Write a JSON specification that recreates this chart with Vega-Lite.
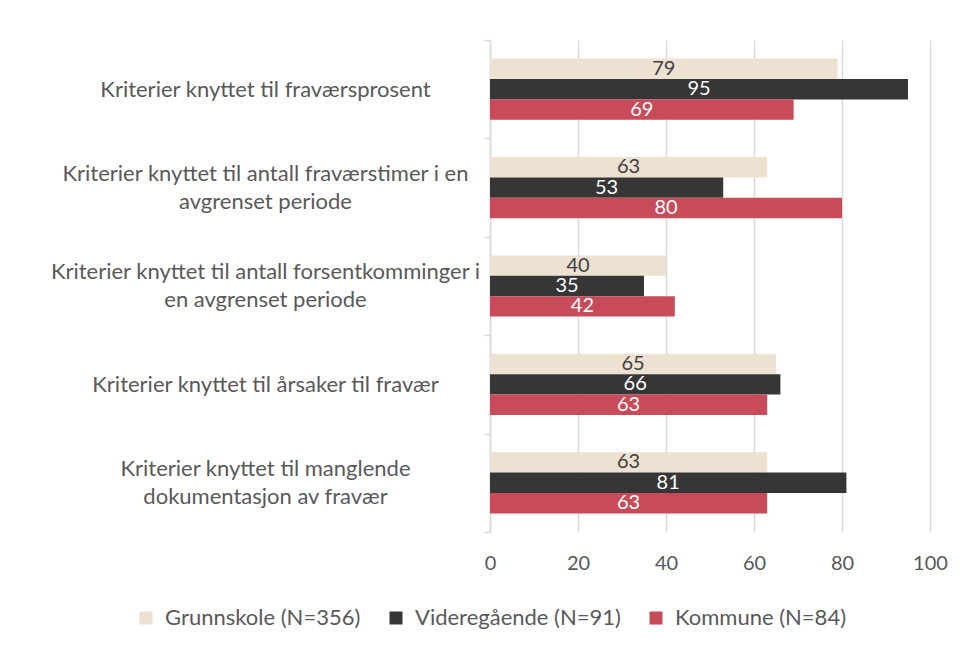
{
  "$schema": "https://vega.github.io/schema/vega-lite/v6.json",
  "width": 440,
  "height": 492,
  "autosize": "none",
  "padding": {"left": 490, "top": 40, "right": 36, "bottom": 117},
  "background": "white",
  "config": {"view": {"stroke": null}, "font": "Lato"},
  "data": {
    "values": [
      {"kategori": "Kriterier knyttet til fraværsprosent", "gruppe": "Grunnskole (N=356)", "verdi": 79},
      {"kategori": "Kriterier knyttet til fraværsprosent", "gruppe": "Videregående (N=91)", "verdi": 95},
      {"kategori": "Kriterier knyttet til fraværsprosent", "gruppe": "Kommune (N=84)", "verdi": 69},
      {"kategori": "Kriterier knyttet til antall fraværstimer i en|avgrenset periode", "gruppe": "Grunnskole (N=356)", "verdi": 63},
      {"kategori": "Kriterier knyttet til antall fraværstimer i en|avgrenset periode", "gruppe": "Videregående (N=91)", "verdi": 53},
      {"kategori": "Kriterier knyttet til antall fraværstimer i en|avgrenset periode", "gruppe": "Kommune (N=84)", "verdi": 80},
      {"kategori": "Kriterier knyttet til antall forsentkomminger i|en avgrenset periode", "gruppe": "Grunnskole (N=356)", "verdi": 40},
      {"kategori": "Kriterier knyttet til antall forsentkomminger i|en avgrenset periode", "gruppe": "Videregående (N=91)", "verdi": 35},
      {"kategori": "Kriterier knyttet til antall forsentkomminger i|en avgrenset periode", "gruppe": "Kommune (N=84)", "verdi": 42},
      {"kategori": "Kriterier knyttet til årsaker til fravær", "gruppe": "Grunnskole (N=356)", "verdi": 65},
      {"kategori": "Kriterier knyttet til årsaker til fravær", "gruppe": "Videregående (N=91)", "verdi": 66},
      {"kategori": "Kriterier knyttet til årsaker til fravær", "gruppe": "Kommune (N=84)", "verdi": 63},
      {"kategori": "Kriterier knyttet til manglende|dokumentasjon av fravær", "gruppe": "Grunnskole (N=356)", "verdi": 63},
      {"kategori": "Kriterier knyttet til manglende|dokumentasjon av fravær", "gruppe": "Videregående (N=91)", "verdi": 81},
      {"kategori": "Kriterier knyttet til manglende|dokumentasjon av fravær", "gruppe": "Kommune (N=84)", "verdi": 63}
    ]
  },
  "encoding": {
    "yOffset": {
      "field": "gruppe",
      "sort": ["Grunnskole (N=356)", "Videregående (N=91)", "Kommune (N=84)"],
      "scale": {"paddingOuter": 0.91, "paddingInner": 0}
    }
  },
  "resolve": {"axis": {"y": "independent"}},
  "layer": [
    {
      "mark": {"type": "bar"},
      "encoding": {
        "y": {
          "field": "kategori",
          "type": "nominal",
          "sort": null,
          "scale": {"paddingInner": 0, "paddingOuter": 0},
          "axis": {
            "orient": "left",
            "title": null,
            "labelExpr": "indexof(datum.label, '|') >= 0 ? '' : datum.label",
            "tickBand": "extent",
            "tickSize": 6,
            "tickColor": "#d9d9d9",
            "tickWidth": 1.5,
            "domainColor": "#d9d9d9",
            "domainWidth": 1.5,
            "labelAlign": "center",
            "labelBaseline": "middle",
            "labelPadding": 219,
            "labelFontSize": 22,
            "labelColor": "#595959",
            "labelLimit": 0
          }
        },
        "x": {
          "field": "verdi",
          "type": "quantitative",
          "scale": {"domain": [0, 100]},
          "axis": {
            "title": null,
            "values": [0, 20, 40, 60, 80, 100],
            "grid": true,
            "gridColor": "#d9d9d9",
            "gridWidth": 1.5,
            "domain": false,
            "ticks": false,
            "labelFlush": false,
            "labelPadding": 21,
            "labelFontSize": 20,
            "labelColor": "#595959"
          }
        },
        "color": {
          "field": "gruppe",
          "type": "nominal",
          "sort": ["Grunnskole (N=356)", "Videregående (N=91)", "Kommune (N=84)"],
          "scale": {
            "domain": ["Grunnskole (N=356)", "Videregående (N=91)", "Kommune (N=84)"],
            "range": ["#ede1d2", "#363636", "#c84b59"]
          },
          "legend": {
            "title": null,
            "orient": "none",
            "direction": "horizontal",
            "legendX": -355,
            "legendY": 567,
            "symbolType": "square",
            "symbolSize": 169,
            "symbolStrokeWidth": 0,
            "labelFontSize": 22,
            "labelColor": "#595959",
            "labelOffset": 8,
            "columnPadding": 24,
            "labelLimit": 0
          }
        }
      }
    },
    {
      "transform": [{"calculate": "datum.verdi / 2", "as": "midt"}],
      "mark": {"type": "text", "fontSize": 20, "baseline": "middle", "align": "center"},
      "encoding": {
        "y": {
          "field": "kategori",
          "type": "nominal",
          "sort": null,
          "scale": {"paddingInner": 0, "paddingOuter": 0},
          "axis": {
            "orient": "left",
            "title": null,
            "labelExpr": "indexof(datum.label, '|') >= 0 ? split(datum.label, '|') : ''",
            "domain": false,
            "ticks": true,
            "tickSize": 6,
            "tickOpacity": 0,
            "labelAlign": "center",
            "labelBaseline": "middle",
            "labelPadding": 219,
            "labelOffset": -14,
            "labelFontSize": 22,
            "labelColor": "#595959",
            "labelLineHeight": 28,
            "labelLimit": 0
          }
        },
        "x": {"field": "midt", "type": "quantitative"},
        "text": {"field": "verdi", "type": "quantitative", "format": ".0f"},
        "fill": {
          "field": "gruppe",
          "type": "nominal",
          "scale": {
            "domain": ["Grunnskole (N=356)", "Videregående (N=91)", "Kommune (N=84)"],
            "range": ["#404040", "#ffffff", "#ffffff"]
          },
          "legend": null
        }
      }
    }
  ]
}
